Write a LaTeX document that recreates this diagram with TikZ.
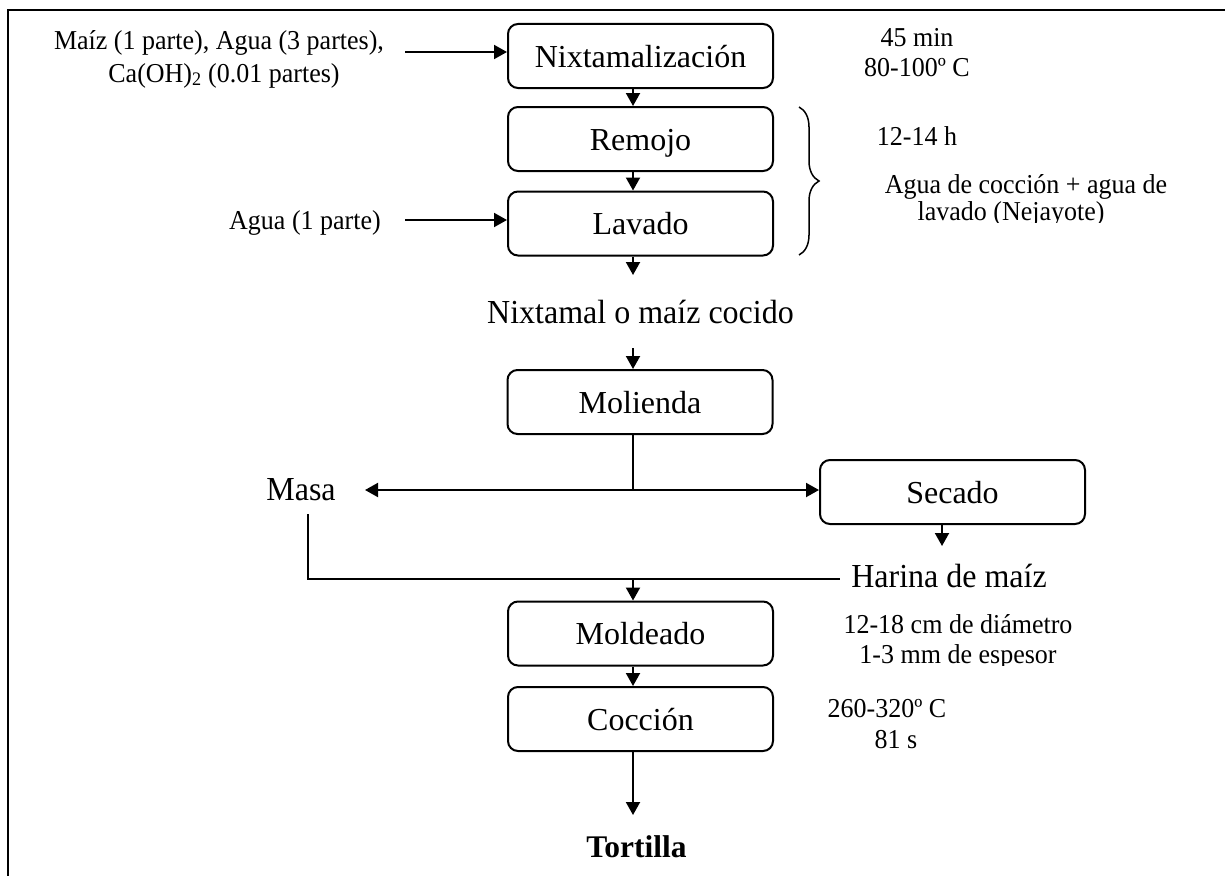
\documentclass[tikz,border=0pt]{standalone}
\usepackage{graphicx}
\usepackage{fontspec}
\setmainfont{Liberation Serif}
\usetikzlibrary{arrows.meta,decorations.pathreplacing,calc}
\newcommand{\vsq}[1]{\scalebox{1}[1.05]{#1}}
\begin{document}
\begin{tikzpicture}[x=1pt,y=-1pt,
  proc/.style={draw, line width=2pt, rounded corners=10pt, minimum width=265pt,
    minimum height=64pt, text height=22pt, text depth=0pt, inner sep=0pt,
    font=\fontsize{32}{38}\selectfont},
  arr/.style={line width=2pt, -{Triangle[length=13pt,width=14pt]}},
  thinl/.style={line width=1.3pt},
  big/.style={inner sep=0pt, anchor=base, font=\fontsize{32}{38}\selectfont},
  small/.style={inner sep=0pt, anchor=base, font=\fontsize{26}{30}\selectfont},
]
\useasboundingbox (0,0) rectangle (1225,875);
\fill[white] (0,0) rectangle (1225,875);
% frame
\draw[line width=2.5pt] (8,900) -- (8,10) -- (1240,10);

% process boxes
\node[proc] (nix)  at (640.5,56)   {Nixtamalización};
\node[proc] (rem)  at (640.5,139)  {Remojo};
\node[proc] (lav)  at (640.5,223.5){Lavado};
\node[proc] (mol)  at (640,402)    {Molienda};
\node[proc] (sec)  at (952.5,492)  {Secado};
\node[proc] (mold) at (640.5,633.5){Moldeado};
\node[proc] (coc)  at (640.5,719)  {Cocción};

% inputs
\node[small] (in1a) at (219,50) {\vsq{Maíz (1 parte), Agua (3 partes),}};
\node[small] (in1b) at (224,82) {\vsq{Ca(OH)\textsubscript{2} (0.01 partes)}};
\node[small] (in2)  at (305,229) {\vsq{Agua (1 parte)}};

% right-hand notes
\node[small] (t45) at (917,47)  {\vsq{45 min}};
\node[small] (t80) at (917,76)  {\vsq{80-100º C}};
\node[small] (t12) at (917,145) {\vsq{12-14 h}};
\node[small] (tag1) at (1026,193) {\vsq{Agua de cocción + agua de}};
\begin{scope}
  \clip (850,195) rectangle (1200,222);
  \node[small] (tag2) at (1011,220) {\vsq{lavado (Nejayote)}};
\end{scope}
\node[small] (tdia) at (958,633) {\vsq{12-18 cm de diámetro}};
\begin{scope}
  \clip (820,640) rectangle (1200,665);
  \node[small] (tesp) at (958,663) {\vsq{1-3 mm de espesor}};
\end{scope}
\node[small] (t260) at (887,717) {\vsq{260-320º C}};
\node[small] (t81)  at (896,748) {\vsq{81 s}};

% intermediate labels
\node[big] (nixt) at (640.5,323) {\vsq{Nixtamal o maíz cocido}};
\node[big] (masa) at (301,500)   {\vsq{Masa}};
\node[big] (har)  at (949,587)   {\vsq{Harina de maíz}};
\node[big, font=\bfseries\fontsize{31.5}{36}\selectfont] (tor) at (636.5,857) {Tortilla};

% brace
\draw[line width=1.5pt, decorate, decoration={brace, amplitude=20pt}] (799,107) -- (799,255);

% coordinates
\coordinate (ax) at (633,0);
\coordinate (s1) at (405,52);
\coordinate (s2) at (405,220);
\coordinate (lavout) at (633,275);
\coordinate (nixtout) at (633,348);
\coordinate (jn) at (633,490);
\coordinate (masaend) at (365,490);
\coordinate (secx) at (942,0);
\coordinate (secout) at (942,546);
\coordinate (mtop) at (308,514);
\coordinate (mcorner) at (308,579);
\coordinate (hend) at (840,579);
\coordinate (torin) at (633,815);

% connectors
\draw[arr] (s1) -- (s1 -| nix.west);
\draw[arr] (s2) -- (s2 -| lav.west);
\draw[arr] (nix.south -| ax) -- (rem.north -| ax);
\draw[arr] (rem.south -| ax) -- (lav.north -| ax);
\draw[arr] (lav.south -| ax) -- (lavout);
\draw[arr] (nixtout) -- (mol.north -| ax);
\draw[thinl] (mol.south -| ax) -- (jn);
\draw[arr] (jn) -- (masaend);
\draw[arr] (jn) -- (jn -| sec.west);
\draw[arr] (sec.south -| secx) -- (secout);
\draw[thinl] (mtop) -- (mcorner) -- (hend);
\draw[arr] (ax |- hend) -- (mold.north -| ax);
\draw[arr] (mold.south -| ax) -- (coc.north -| ax);
\draw[arr] (coc.south -| ax) -- (torin);
\end{tikzpicture}
\end{document}
